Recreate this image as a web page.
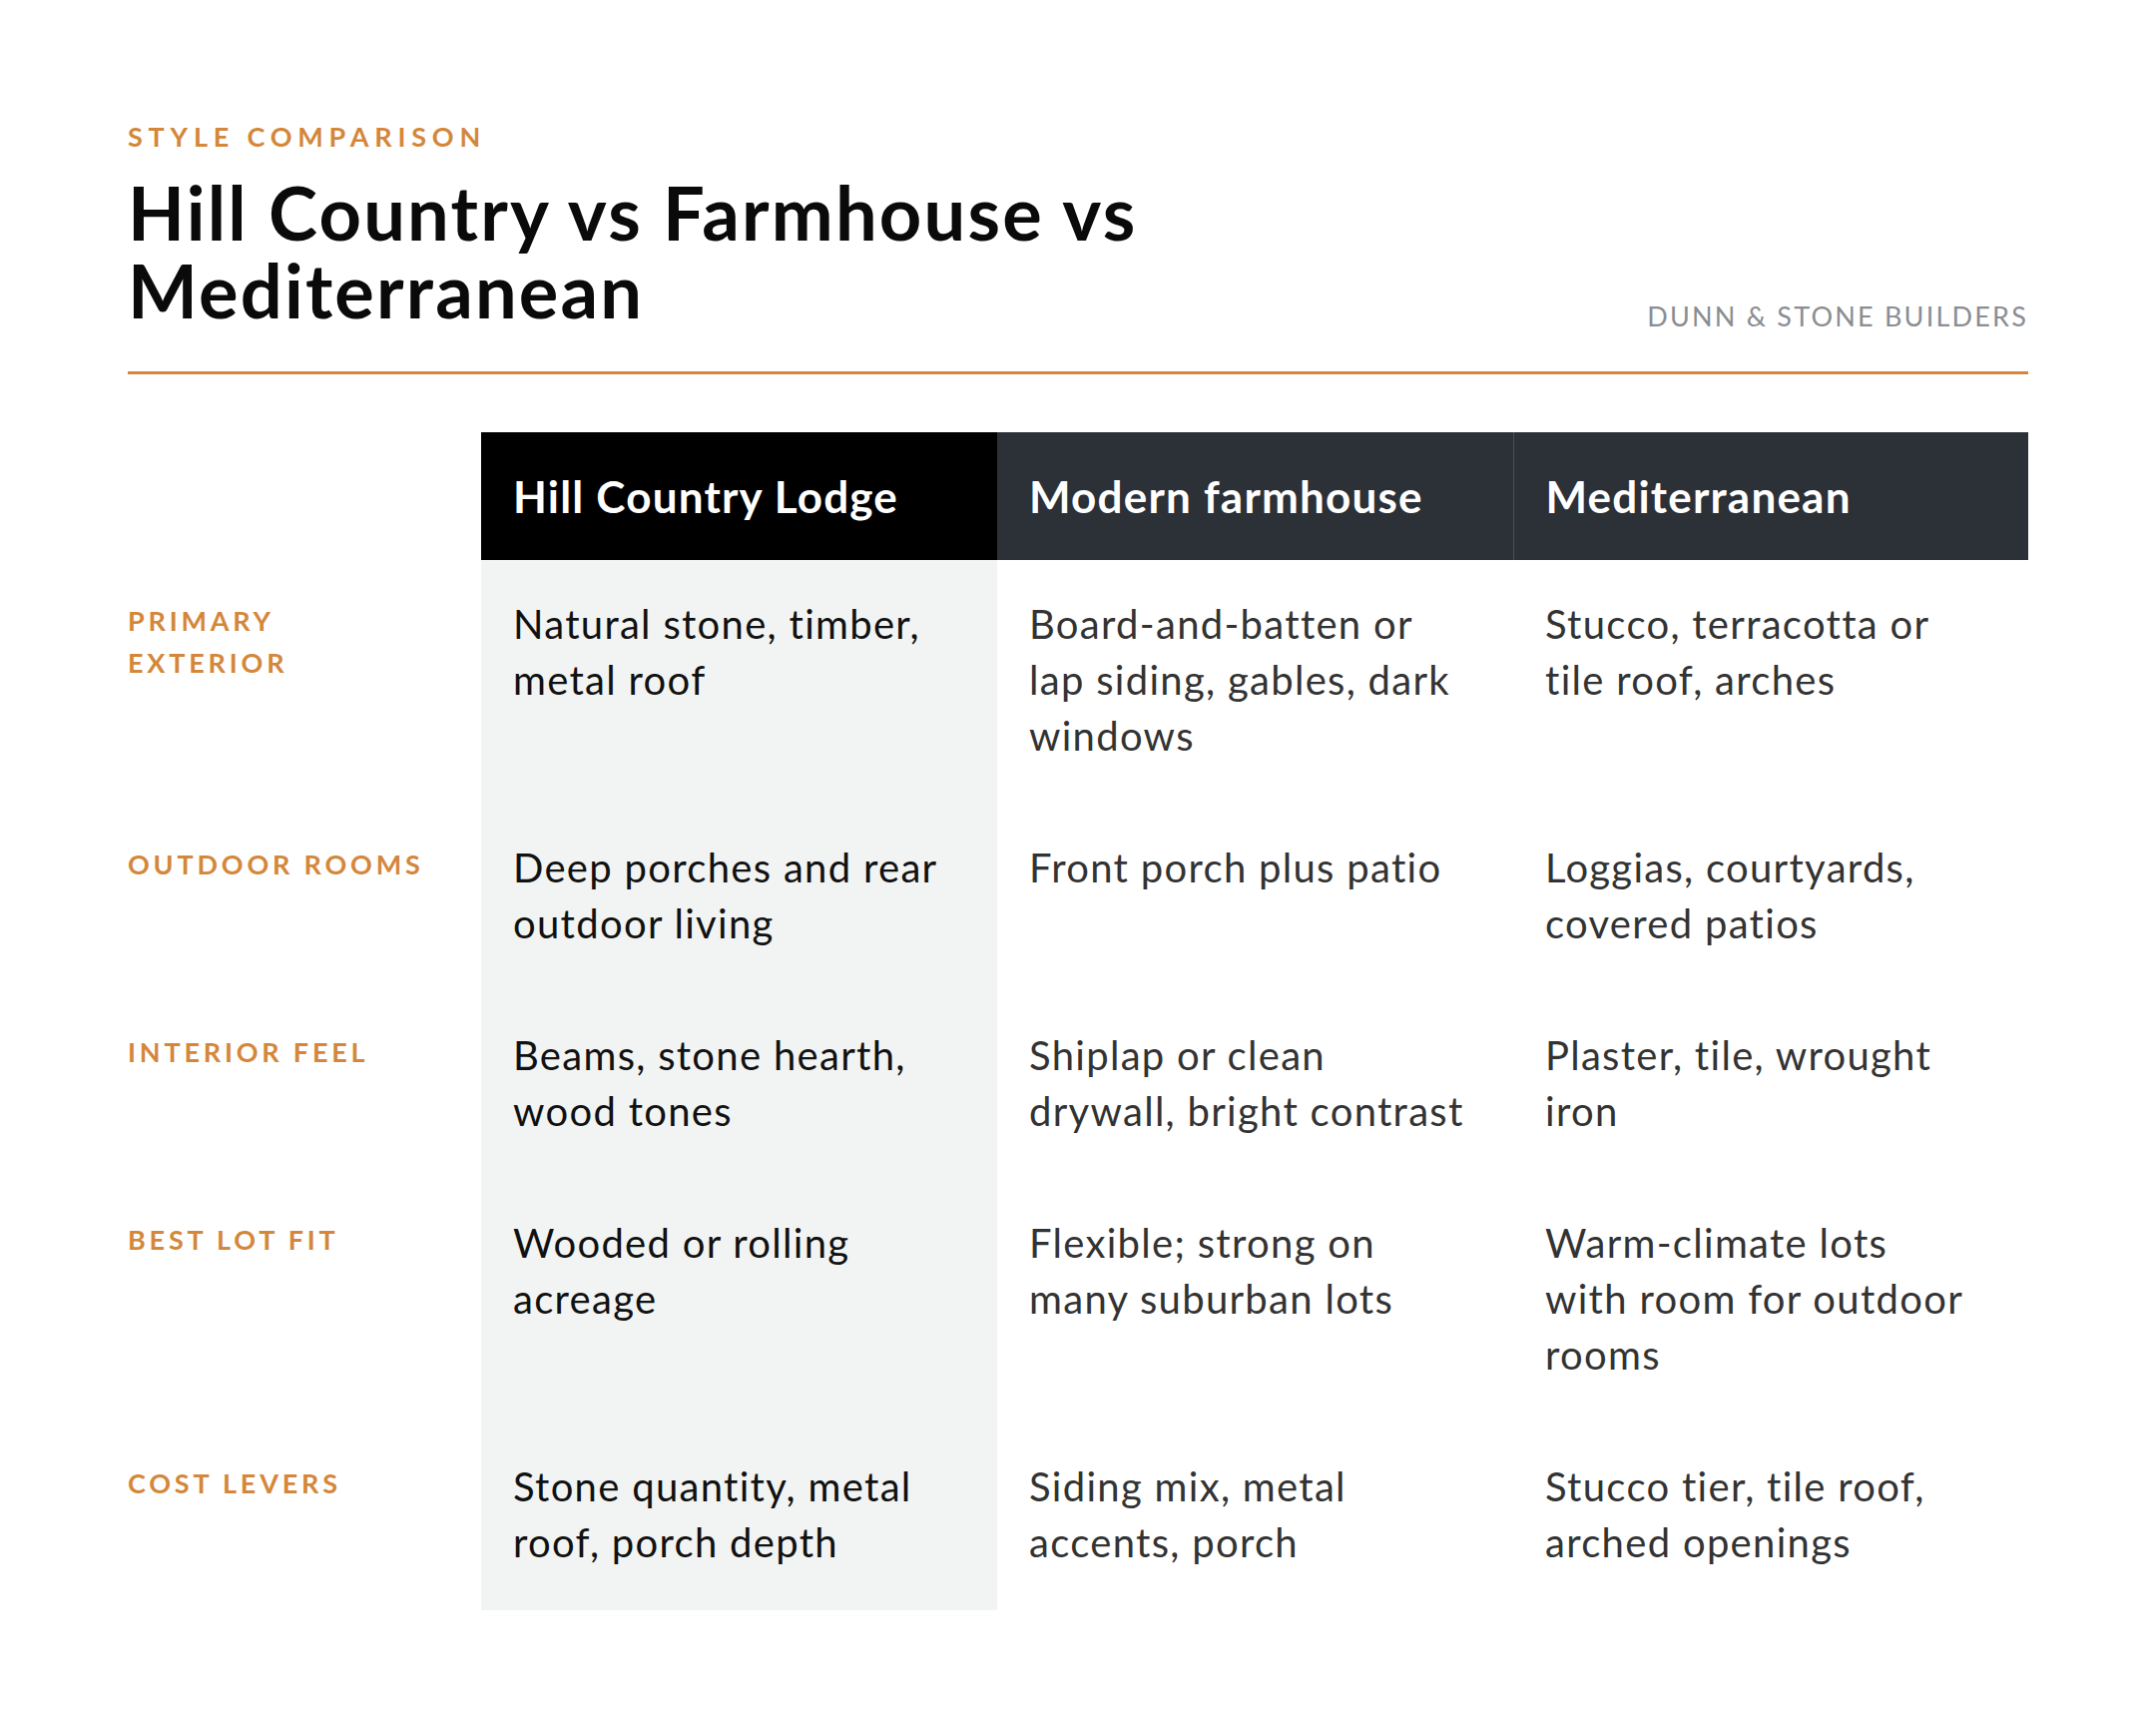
<!DOCTYPE html>
<html><head><meta charset="utf-8">
<script src="https://cdn.jsdelivr.net/npm/chart.js@4"></script>
<style>
html,body{margin:0;background:#fff;}
body{width:2160px;height:1714px;position:relative;font-family:Lato,"Noto Sans",sans-serif;color:#111;}
#kicker{position:absolute;left:128px;top:120px;font-size:27px;font-weight:700;letter-spacing:5.8px;color:#d4873a;}
#title{position:absolute;left:128px;top:174px;font-size:74px;font-weight:700;line-height:78px;letter-spacing:2.2px;width:1300px;color:#0a0a0a;}
#brand{position:absolute;right:128px;top:300px;font-size:27px;letter-spacing:2.2px;color:#8a8d92;}
#rule{position:absolute;left:128px;right:128px;top:372px;height:3px;background:#d4873a;}
table{position:absolute;left:128px;top:433px;border-collapse:collapse;table-layout:fixed;width:1904px;}
th{height:128px;color:#fff;font-size:44px;font-weight:700;text-align:left;padding:0 32px;background:#2c3037;letter-spacing:1.2px;}
th.first{background:#000;}
th.blank{background:#fff;}
th.sep{border-left:1px solid #4a4f57;}
td{font-size:40px;line-height:56px;letter-spacing:1.3px;vertical-align:top;padding:36px 32px 40px;color:#333;white-space:nowrap;}
td.c1{background:#f2f4f3;color:#111;}
td.lab{padding-left:0;padding-top:40px;font-size:27px;line-height:42px;font-weight:700;letter-spacing:3.8px;color:#d4873a;}
</style></head><body>
<div id="kicker"></div><div id="title"></div><div id="brand"></div><div id="rule"></div>
<table id="t"></table>
<script>
const kicker="STYLE COMPARISON";
const title="Hill Country vs Farmhouse vs<br>Mediterranean";
const brand="DUNN & STONE BUILDERS";
const columns=["Hill Country Lodge","Modern farmhouse","Mediterranean"];
const rowLabels=["PRIMARY<br>EXTERIOR","OUTDOOR ROOMS","INTERIOR FEEL","BEST LOT FIT","COST LEVERS"];
const hillCountry=["Natural stone, timber,<br>metal roof","Deep porches and rear<br>outdoor living","Beams, stone hearth,<br>wood tones","Wooded or rolling<br>acreage","Stone quantity, metal<br>roof, porch depth"];
const farmhouse=["Board-and-batten or<br>lap siding, gables, dark<br>windows","Front porch plus patio","Shiplap or clean<br>drywall, bright contrast","Flexible; strong on<br>many suburban lots","Siding mix, metal<br>accents, porch"];
const mediterranean=["Stucco, terracotta or<br>tile roof, arches","Loggias, courtyards,<br>covered patios","Plaster, tile, wrought<br>iron","Warm-climate lots<br>with room for outdoor<br>rooms","Stucco tier, tile roof,<br>arched openings"];
document.getElementById('kicker').textContent=kicker;
document.getElementById('title').innerHTML=title;
document.getElementById('brand').textContent=brand;
let h='<colgroup><col style="width:354px"><col style="width:517px"><col style="width:517px"><col style="width:516px"></colgroup>';
h+='<tr><th class="blank"></th>'+columns.map((c,i)=>`<th class="${i==0?'first':(i==2?'sep':'')}">${c}</th>`).join('')+'</tr>';
rowLabels.forEach((l,i)=>{h+=`<tr><td class="lab">${l}</td><td class="c1">${hillCountry[i]}</td><td>${farmhouse[i]}</td><td>${mediterranean[i]}</td></tr>`;});
document.getElementById('t').innerHTML=h;
</script></body></html>
